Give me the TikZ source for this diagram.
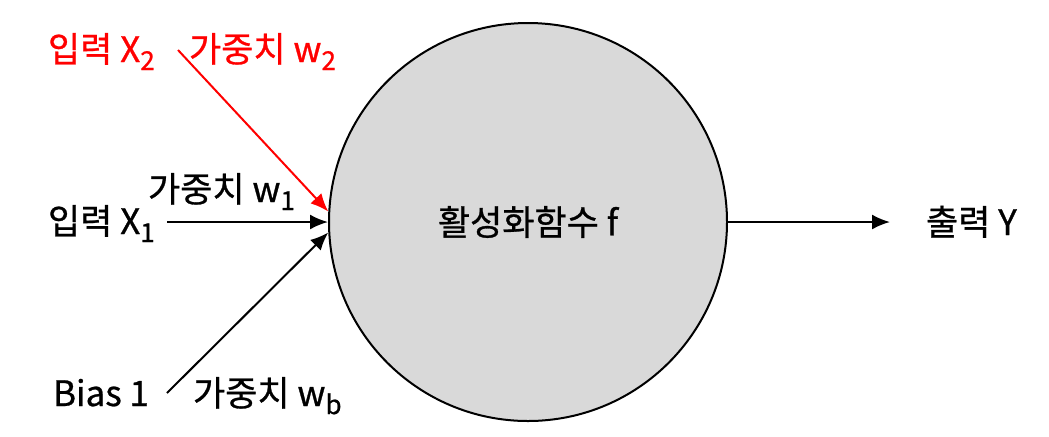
\documentclass[tikz,border=0pt]{standalone}
\usepackage{fontspec}
\setmainfont{Noto Sans CJK KR}[FakeBold=0.8]
\usetikzlibrary{arrows, positioning, arrows.meta}
\newcommand{\lowidx}[1]{\raisebox{-4pt}{\fontsize{13}{13}\selectfont #1}}

\begin{document}
\begin{tikzpicture}[x=0.5pt, y=-0.5pt, line width=1pt, >={Latex[length=9pt,width=7.5pt]},
		neuron/.style={circle, draw, fill=gray!30, minimum size=199pt, inner sep=0pt, font=\fontsize{17.5}{20}\selectfont},
		lbl/.style={anchor=base west, inner sep=0pt, font=\fontsize{17.5}{20}\selectfont}]
		\useasboundingbox (0,0) rectangle (1049,436);

		\node[neuron] (fn) at (528,222) {활성화함수 f};

		\node[lbl, red] (inTwo) at (47,62) {입력 X\lowidx{2}};
		\node[lbl, red] (wTwo) at (188,62) {가중치 w\lowidx{2}};
		\node[lbl] (wOne) at (147,202) {가중치 w\lowidx{1}};
		\node[lbl] (inOne) at (47,234) {입력 X\lowidx{1}};
		\node[lbl] (bias) at (52,406) {Bias 1};
		\node[lbl] (wB) at (192,406) {가중치 w\lowidx{b}};
		\node[lbl] (outY) at (925,235) {출력 Y};

		\coordinate (fromTwo) at (178,50);
		\coordinate (fromOne) at (167,222);
		\coordinate (fromB) at (167,393);
		\coordinate (toY) at (890,222);

		\draw[->, red] (fromTwo) -- (fn.177);
		\draw[->] (fromOne) -- (fn.west);
		\draw[->] (fromB) -- (fn.183);
		\draw[->] (fn.east) -- (toY);
	\end{tikzpicture}
\end{document}
